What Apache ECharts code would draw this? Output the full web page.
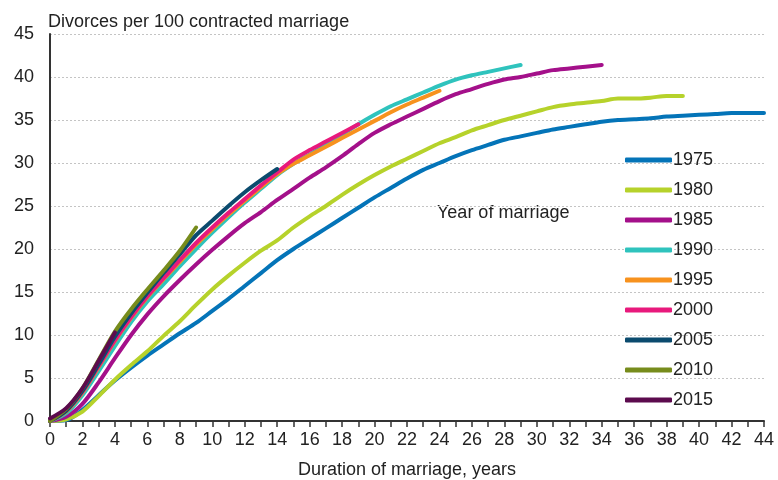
<!DOCTYPE html>
<html>
<head>
<meta charset="utf-8">
<script src="https://cdn.jsdelivr.net/npm/echarts@6/dist/echarts.min.js"></script>
<style>
  html, body { margin: 0; padding: 0; background: #fff; }
  #chart { width: 778px; height: 480px; }
</style>
</head>
<body>
<div id="chart"></div>
<script>
// duration of marriage, years
var years = []
for (var i = 0; i <= 44; i++) years.push(String(i))

var yTicks = [0, 5, 10, 15, 20, 25, 30, 35, 40, 45]
var cohorts = ['1975', '1980', '1985', '1990', '1995', '2000', '2005', '2010', '2015']

// divorces per 100 contracted marriages, by year of marriage
var s1975 = [0, 0.1, 1.3, 3.0, 4.7, 6.2, 7.6, 8.9, 10.2, 11.4, 12.8, 14.2, 15.7, 17.2, 18.7, 20.0, 21.2, 22.4, 23.6, 24.8,
  26.0, 27.1, 28.2, 29.2, 30.0, 30.8, 31.5, 32.1, 32.7, 33.1, 33.5, 33.9, 34.2, 34.5, 34.8, 35.0, 35.1, 35.2, 35.4, 35.5,
  35.6, 35.7, 35.8, 35.8, 35.8]
var s1980 = [0, 0.2, 1.1, 2.9, 4.8, 6.5, 8.1, 9.9, 11.6, 13.5, 15.3, 16.9, 18.4, 19.8, 21.0, 22.5, 23.8, 25.0, 26.3, 27.5,
  28.6, 29.6, 30.5, 31.4, 32.3, 33.0, 33.8, 34.4, 35.0, 35.5, 36.0, 36.5, 36.8, 37.0, 37.2, 37.5, 37.5, 37.6, 37.8, 37.8]
var s1985 = [0, 0.5, 2.0, 4.5, 7.3, 10.0, 12.4, 14.5, 16.4, 18.2, 19.9, 21.5, 23.0, 24.3, 25.7, 27.0, 28.3, 29.5, 30.8, 32.2,
  33.5, 34.5, 35.4, 36.3, 37.2, 38.0, 38.6, 39.2, 39.7, 40.0, 40.4, 40.8, 41.0, 41.2, 41.4]
var s1990 = [0, 0.9, 3.0, 5.8, 8.7, 11.5, 13.9, 15.9, 18.0, 20.0, 21.9, 23.7, 25.4, 27.0, 28.6, 29.9, 31.0, 32.1, 33.3, 34.5,
  35.6, 36.6, 37.4, 38.2, 39.0, 39.7, 40.2, 40.6, 41.0, 41.4]
var s1995 = [0, 1.1, 3.3, 6.3, 9.3, 12.0, 14.4, 16.5, 18.5, 20.5, 22.3, 24.0, 25.6, 27.2, 28.7, 29.9, 30.9, 31.9, 32.9, 33.9,
  34.9, 35.9, 36.8, 37.6, 38.4]
var s2000 = [0, 1.2, 3.4, 6.4, 9.4, 12.1, 14.5, 16.6, 18.7, 20.7, 22.5, 24.2, 25.8, 27.4, 28.9, 30.4, 31.5, 32.5, 33.5, 34.5]
var s2005 = [0, 1.2, 3.5, 6.6, 9.8, 12.5, 14.9, 17.2, 19.4, 21.6, 23.3, 25.0, 26.6, 28.0, 29.3]
var s2010 = [0, 1.4, 3.8, 7.1, 10.4, 13.0, 15.3, 17.5, 19.8, 22.5]
var s2015 = [0.3, 1.5, 3.8, 7.0, 10.3]

var values = [s1975, s1980, s1985, s1990, s1995, s2000, s2005, s2010, s2015]
var colors = ['#0474b8', '#b6d22b', '#a4108a', '#2fc3bd', '#f7921e', '#e8197c', '#0b4b6e', '#778c1c', '#5c0b4e']

var txt = '#222'
var font = 'Liberation Sans, Arial, sans-serif'

var series = []
cohorts.forEach(function (name, k) {
  series.push({
    name: name,
    type: 'line',
    data: values[k],
    symbol: 'none',
    smooth: 0.3,
    lineStyle: { width: 4, color: colors[k], cap: 'round' },
    itemStyle: { color: colors[k] },
    emphasis: { disabled: true }
  })
})

var chart = echarts.init(document.getElementById('chart'))
chart.setOption({
  animation: false,
  backgroundColor: '#fff',
  textStyle: { fontFamily: font },
  color: colors,
  title: {
    text: 'Divorces per 100 contracted marriage',
    left: 43,
    top: 8,
    textStyle: { fontSize: 18, fontWeight: 'normal', color: txt, fontFamily: font }
  },
  legend: {
    orient: 'vertical',
    left: 620,
    top: 145,
    itemWidth: 47,
    itemHeight: 5,
    itemGap: 10,
    icon: 'roundRect',
    data: cohorts,
    textStyle: { fontSize: 18, color: txt, lineHeight: 20, padding: [0, 0, 0, -4], fontFamily: font }
  },
  grid: {
    left: 50,
    right: 14,
    top: 34,
    bottom: 59,
    outerBoundsMode: 'none'
  },
  xAxis: {
    type: 'category',
    data: years,
    boundaryGap: false,
    name: 'Duration of marriage, years',
    nameLocation: 'middle',
    nameGap: 40,
    nameTextStyle: { fontSize: 18, color: txt, fontFamily: font },
    axisLine: { lineStyle: { color: '#333', width: 2 } },
    axisTick: { show: true, interval: 0, length: 6, lineStyle: { color: '#333', width: 1.5 } },
    axisLabel: {
      interval: 1,
      margin: 10,
      fontSize: 18,
      color: txt,
      fontFamily: 'Liberation Sans Narrow, Arial Narrow, Liberation Sans, sans-serif'
    },
    splitLine: { show: false }
  },
  yAxis: {
    type: 'value',
    min: yTicks[0],
    max: yTicks[yTicks.length - 1],
    interval: 5,
    axisLine: { show: true, lineStyle: { color: '#333', width: 2 } },
    axisTick: { show: false },
    axisLabel: { margin: 16, fontSize: 18, color: txt, fontFamily: font },
    splitLine: { lineStyle: { color: '#c4c4c4', type: [2, 2], width: 1 } }
  },
  graphic: [{
    type: 'text',
    left: 437,
    top: 204,
    style: { text: 'Year of marriage', fontSize: 18, fill: txt, fontFamily: font }
  }],
  series: series
})
</script>
</body>
</html>
